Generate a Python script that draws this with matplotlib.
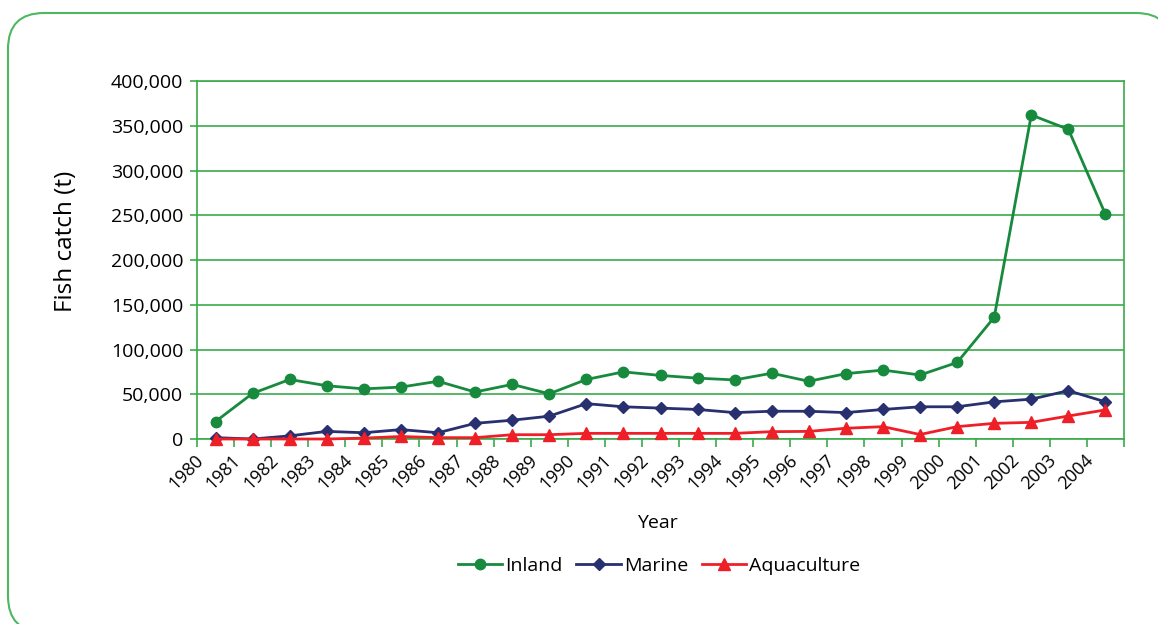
import matplotlib
matplotlib.use("Agg")
import matplotlib.pyplot as plt
from matplotlib.patches import FancyBboxPatch
from matplotlib.ticker import FuncFormatter, FixedLocator
import matplotlib.transforms as mtransforms

years = [str(y) for y in range(1980, 2005)]
inland = [19500, 51000, 66500, 59500, 56000, 58000, 64500, 52500, 61000, 50500,
          66500, 75000, 71000, 68000, 66000, 73500, 64500, 73000, 77000, 71500,
          85500, 136000, 362000, 346000, 251000]
marine = [1500, 0, 3500, 8500, 7000, 10500, 7000, 17500, 21000, 25500,
          39500, 36000, 34500, 33000, 29500, 31000, 31000, 29500, 33000, 36000,
          36000, 41500, 44500, 54000, 41500]
aquaculture = [0, 0, 0, 0, 1000, 2800, 1500, 1500, 4800, 4800,
               6300, 6300, 6300, 6300, 6300, 8200, 8500, 12000, 13800, 5000,
               13800, 17500, 18600, 25700, 32500]

GREEN = "#178a3e"
NAVY = "#283070"
RED = "#ee1f26"
GRID = "#3aaa4a"

plt.rcParams['font.family'] = ['Open Sans', 'DejaVu Sans']

W, H = 1158, 624
fig = plt.figure(figsize=(W / 100, H / 100), dpi=100)

# rounded frame (display coords, origin bottom-left); filled so Agg does not clip the outline
frame = FancyBboxPatch((8, -8), 1164, H - 13 + 8, boxstyle="round,pad=0,rounding_size=36",
                       transform=None, facecolor="white", edgecolor="#4db860", linewidth=1.5,
                       clip_on=False, zorder=-1)
fig.patches.append(frame)

ax = fig.add_axes([197 / W, 1 - 439 / H, (1124 - 197) / W, (439 - 81) / H])
x = list(range(len(years)))

ax.plot(x, inland, color=GREEN, lw=2.0, marker='o', ms=7.5, label='Inland',
        zorder=3, clip_on=False)
ax.plot(x, marine, color=NAVY, lw=2.0, marker='D', ms=6.5, label='Marine',
        zorder=4, clip_on=False)
ax.plot(x, aquaculture, color=RED, lw=2.0, marker='^', ms=8.5, label='Aquaculture',
        zorder=5, clip_on=False)

ax.set_xlim(-0.5, len(years) - 0.5)
ax.set_ylim(0, 400000)
ax.set_yticks(range(0, 400001, 50000))
ax.yaxis.set_major_formatter(FuncFormatter(lambda v, p: f"{int(v):,}"))
ax.grid(axis='y', color=GRID, lw=1.2)
ax.set_axisbelow(True)

ax.set_xticks(x)
ax.set_xticklabels(years, rotation=45, ha='right', va='top', rotation_mode='default')
ax.xaxis.set_minor_locator(FixedLocator([i - 0.5 for i in range(len(years) + 1)]))
ax.tick_params(axis='x', which='major', length=0, pad=9, labelsize=13)
ax.tick_params(axis='x', which='minor', length=6, color=GRID, width=1.2, direction='out')
ax.tick_params(axis='y', length=5, color=GRID, width=1.2, labelsize=14, pad=5)
shift = mtransforms.ScaledTranslation(-8 / 100, 0, fig.dpi_scale_trans)
for lab in ax.get_xticklabels():
    lab.set_transform(lab.get_transform() + shift)

for s in ['left', 'right', 'bottom', 'top']:
    ax.spines[s].set_color(GRID)
    ax.spines[s].set_linewidth(1.2)

ax.set_ylabel("Fish catch (t)", fontsize=17.5, va='center')
ax.yaxis.set_label_coords((66 - 197) / 927, (439 - 241) / 358)
ax.set_xlabel("Year", fontsize=14, va='center')
ax.xaxis.set_label_coords((657 - 197) / 927, (439 - 523) / 358)

fig.legend(loc='center', bbox_to_anchor=(659 / W, 1 - 566 / H), ncol=3, frameon=False,
           fontsize=14, handlelength=2.3, columnspacing=0.7, handletextpad=0.15)

fig.savefig("out.png", dpi=100)
